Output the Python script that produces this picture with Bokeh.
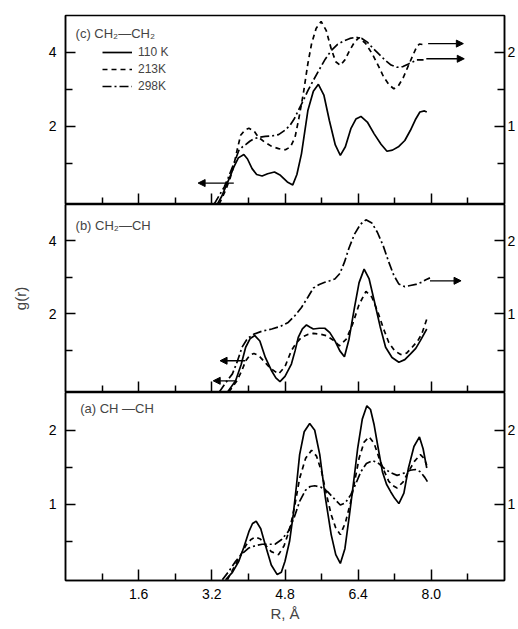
from bokeh.plotting import figure
from bokeh.models import (Range1d, LinearAxis, FixedTicker, Arrow, NormalHead, Label,
                          Legend, LegendItem, PrintfTickFormatter, CustomJSTickFormatter)
from bokeh.layouts import column
from bokeh.embed import file_html
from bokeh.resources import INLINE

FONT = "Liberation Sans"

# ---------------- data (R in Angstrom, g(r)) ----------------
# panel (c) CH2-CH2
R_c_110 = [3.32, 3.42, 3.50, 3.60, 3.68, 3.78, 3.90, 3.98, 4.08, 4.18, 4.30, 4.42, 4.57, 4.70, 4.85, 4.97, 5.06, 5.16, 5.30, 5.42, 5.53, 5.65, 5.77, 5.90, 6.01, 6.12, 6.24, 6.35, 6.46, 6.60, 6.75, 6.90, 7.03, 7.15, 7.29, 7.42, 7.54, 7.65, 7.75, 7.85, 7.90]
g_c_110 = [-0.10, 0.12, 0.36, 0.65, 0.90, 1.15, 1.24, 1.12, 0.86, 0.70, 0.66, 0.72, 0.77, 0.68, 0.50, 0.42, 0.70, 1.26, 2.43, 2.95, 3.14, 2.85, 2.16, 1.50, 1.22, 1.45, 1.94, 2.20, 2.27, 2.12, 1.80, 1.52, 1.33, 1.36, 1.46, 1.62, 1.89, 2.18, 2.39, 2.42, 2.39]
R_c_213 = [3.36, 3.50, 3.60, 3.68, 3.76, 3.83, 3.92, 4.01, 4.12, 4.22, 4.35, 4.51, 4.66, 4.81, 4.92, 5.02, 5.10, 5.20, 5.30, 5.38, 5.48, 5.59, 5.70, 5.81, 5.91, 6.01, 6.11, 6.21, 6.32, 6.42, 6.56, 6.71, 6.85, 6.96, 7.08, 7.18, 7.28, 7.39, 7.50, 7.61, 7.68, 7.74, 7.83]
g_c_213 = [-0.10, 0.27, 0.60, 0.95, 1.40, 1.76, 1.90, 1.95, 1.88, 1.71, 1.58, 1.46, 1.40, 1.37, 1.45, 1.71, 2.20, 2.88, 3.70, 4.23, 4.65, 4.84, 4.60, 4.10, 3.75, 3.65, 3.80, 4.05, 4.28, 4.40, 4.25, 3.96, 3.62, 3.33, 3.12, 3.02, 3.10, 3.33, 3.65, 3.96, 4.15, 4.23, 4.21]
R_c_298 = [3.25, 3.47, 3.56, 3.65, 3.72, 3.79, 3.87, 3.94, 4.03, 4.12, 4.25, 4.37, 4.50, 4.66, 4.80, 4.91, 5.00, 5.09, 5.20, 5.30, 5.43, 5.56, 5.68, 5.81, 5.95, 6.10, 6.22, 6.35, 6.48, 6.60, 6.72, 6.85, 7.00, 7.12, 7.25, 7.38, 7.50, 7.60, 7.68, 7.83]
g_c_298 = [-0.10, 0.36, 0.62, 0.90, 1.12, 1.35, 1.45, 1.51, 1.60, 1.67, 1.71, 1.73, 1.74, 1.78, 1.90, 2.03, 2.20, 2.43, 2.70, 2.97, 3.27, 3.56, 3.82, 4.05, 4.22, 4.32, 4.38, 4.41, 4.38, 4.28, 4.12, 3.96, 3.78, 3.66, 3.60, 3.62, 3.69, 3.75, 3.80, 3.80]

# panel (b) CH2-CH
R_b_110 = [3.54, 3.72, 3.84, 3.94, 4.04, 4.14, 4.25, 4.37, 4.50, 4.60, 4.69, 4.80, 4.94, 5.02, 5.09, 5.18, 5.27, 5.35, 5.42, 5.55, 5.67, 5.78, 5.89, 6.00, 6.10, 6.20, 6.32, 6.42, 6.53, 6.64, 6.75, 6.88, 7.00, 7.14, 7.29, 7.42, 7.54, 7.66, 7.76, 7.90]
g_b_110 = [-0.15, 0.16, 0.60, 1.08, 1.32, 1.40, 1.25, 0.80, 0.45, 0.24, 0.14, 0.28, 0.62, 0.98, 1.35, 1.58, 1.69, 1.63, 1.58, 1.60, 1.60, 1.48, 1.26, 0.98, 0.82, 1.30, 2.17, 2.85, 3.22, 2.95, 2.36, 1.65, 1.08, 0.80, 0.67, 0.74, 0.89, 1.05, 1.26, 1.58]
R_b_213 = [3.57, 3.75, 3.86, 3.94, 4.03, 4.12, 4.22, 4.33, 4.48, 4.66, 4.80, 4.94, 5.05, 5.16, 5.30, 5.42, 5.56, 5.70, 5.85, 5.99, 6.14, 6.28, 6.42, 6.57, 6.70, 6.82, 6.95, 7.07, 7.20, 7.33, 7.46, 7.58, 7.70, 7.79, 7.90]
g_b_213 = [-0.15, 0.16, 0.45, 0.71, 0.86, 0.91, 0.86, 0.71, 0.50, 0.35, 0.55, 0.99, 1.20, 1.35, 1.43, 1.46, 1.44, 1.40, 1.28, 1.12, 1.30, 1.72, 2.25, 2.61, 2.45, 2.08, 1.60, 1.21, 0.98, 0.88, 0.92, 1.08, 1.25, 1.44, 1.85]
R_b_298 = [3.36, 3.50, 3.65, 3.76, 3.86, 3.98, 4.12, 4.30, 4.51, 4.70, 4.87, 5.02, 5.16, 5.30, 5.42, 5.55, 5.67, 5.78, 5.89, 6.00, 6.10, 6.20, 6.32, 6.45, 6.57, 6.70, 6.82, 6.95, 7.07, 7.18, 7.29, 7.42, 7.54, 7.66, 7.79, 7.88, 7.97]
g_b_298 = [-0.15, 0.10, 0.35, 0.70, 1.08, 1.32, 1.44, 1.52, 1.58, 1.65, 1.76, 1.95, 2.17, 2.45, 2.70, 2.80, 2.86, 2.90, 2.95, 3.10, 3.41, 3.80, 4.18, 4.45, 4.57, 4.48, 4.23, 3.85, 3.41, 3.05, 2.81, 2.74, 2.77, 2.80, 2.86, 2.93, 2.98]

# panel (a) CH-CH
R_a_110 = [3.50, 3.65, 3.79, 3.90, 4.01, 4.09, 4.17, 4.27, 4.37, 4.50, 4.63, 4.72, 4.80, 4.90, 4.98, 5.05, 5.12, 5.22, 5.34, 5.45, 5.56, 5.68, 5.81, 5.91, 6.01, 6.11, 6.21, 6.30, 6.39, 6.49, 6.59, 6.67, 6.75, 6.84, 6.93, 7.02, 7.11, 7.20, 7.29, 7.40, 7.50, 7.62, 7.74, 7.82, 7.90]
g_a_110 = [-0.02, 0.08, 0.23, 0.42, 0.63, 0.74, 0.77, 0.67, 0.45, 0.18, 0.05, 0.08, 0.23, 0.50, 0.86, 1.25, 1.67, 1.98, 2.09, 2.00, 1.67, 1.10, 0.59, 0.32, 0.20, 0.40, 0.86, 1.30, 1.76, 2.15, 2.33, 2.28, 2.07, 1.75, 1.44, 1.27, 1.17, 1.08, 1.01, 1.15, 1.49, 1.78, 1.91, 1.75, 1.49]
R_a_213 = [3.54, 3.79, 3.95, 4.05, 4.15, 4.26, 4.37, 4.50, 4.66, 4.78, 4.91, 5.01, 5.12, 5.25, 5.38, 5.49, 5.60, 5.70, 5.81, 5.91, 6.01, 6.12, 6.24, 6.33, 6.42, 6.53, 6.64, 6.75, 6.86, 6.96, 7.07, 7.16, 7.25, 7.38, 7.50, 7.63, 7.76, 7.84, 7.90]
g_a_213 = [-0.02, 0.27, 0.45, 0.52, 0.56, 0.53, 0.45, 0.36, 0.32, 0.44, 0.68, 0.97, 1.35, 1.62, 1.73, 1.65, 1.44, 1.15, 0.86, 0.68, 0.59, 0.75, 1.04, 1.33, 1.62, 1.84, 1.91, 1.82, 1.62, 1.46, 1.31, 1.25, 1.22, 1.30, 1.44, 1.58, 1.67, 1.62, 1.53]
R_a_298 = [3.43, 3.58, 3.72, 3.86, 4.01, 4.15, 4.30, 4.44, 4.58, 4.72, 4.87, 5.00, 5.12, 5.25, 5.35, 5.45, 5.59, 5.73, 5.87, 6.01, 6.12, 6.24, 6.35, 6.46, 6.58, 6.71, 6.83, 6.96, 7.10, 7.25, 7.40, 7.54, 7.65, 7.76, 7.86, 7.94]
g_a_298 = [-0.02, 0.10, 0.23, 0.33, 0.41, 0.44, 0.46, 0.46, 0.46, 0.52, 0.63, 0.82, 1.04, 1.19, 1.24, 1.25, 1.23, 1.17, 1.08, 0.99, 1.02, 1.13, 1.28, 1.44, 1.55, 1.59, 1.56, 1.49, 1.43, 1.39, 1.42, 1.46, 1.47, 1.44, 1.36, 1.28]

# axis tick values
x_major = [1.6, 3.2, 4.8, 6.4, 8.0]
x_minor = [0.8, 2.4, 4.0, 5.6, 7.2, 8.8]
legend_labels = ["110 K", "213K", "298K"]

# arrows (x_start, x_end, y) in panel's left-axis units; head at x_end
arrows_c = [(3.68, 2.90, 0.47), (7.93, 8.70, 4.24), (7.89, 8.72, 3.83)]
arrows_b = [(3.93, 3.38, 0.71), (3.71, 3.23, 0.16), (7.97, 8.65, 2.90)]

DASH = "5 4"
DASHDOT = "9 3 2 3"
LW = 1.7

xr = Range1d(0, 9.6)


def make_panel(height, ylo, yhi, right_scale, left_major, left_minor,
               top_border, bottom_border, show_xlabels):
    p = figure(width=518, height=height, x_range=xr, y_range=Range1d(ylo, yhi),
               output_backend="svg", toolbar_location=None,
               min_border_left=65, min_border_right=11,
               min_border_top=top_border, min_border_bottom=bottom_border)
    p.grid.visible = False
    p.outline_line_color = "black"
    p.outline_line_width = 1.5
    p.background_fill_color = "white"
    p.border_fill_color = "white"
    p.extra_y_ranges = {"r": Range1d(ylo / right_scale, yhi / right_scale)}

    xa = p.xaxis[0]
    xa.ticker = FixedTicker(ticks=x_major, minor_ticks=x_minor)
    xa.major_tick_in = 11
    xa.major_tick_out = 0
    xa.minor_tick_in = 7
    xa.minor_tick_out = 0
    xa.axis_line_width = 1.5
    xa.major_tick_line_width = 1.5
    xa.minor_tick_line_width = 1.5
    if show_xlabels:
        xa.formatter = PrintfTickFormatter(format="%.1f")
        xa.major_label_text_font = FONT
        xa.major_label_text_font_size = "14px"
        xa.major_label_text_color = "black"
        xa.major_label_standoff = 8
        xa.axis_label = "R, Å"
        xa.axis_label_text_font = FONT
        xa.axis_label_text_font_size = "15px"
        xa.axis_label_text_font_style = "normal"
        xa.axis_label_standoff = 3
    else:
        xa.formatter = CustomJSTickFormatter(code="return ''")
        xa.major_label_text_font_size = "1px"
        xa.major_label_standoff = 0

    ya = p.yaxis[0]
    ya.ticker = FixedTicker(ticks=left_major, minor_ticks=left_minor)
    ya.major_tick_in = 10
    ya.major_tick_out = 0
    ya.minor_tick_in = 7
    ya.minor_tick_out = 0
    ya.axis_line_width = 1.5
    ya.major_tick_line_width = 1.5
    ya.minor_tick_line_width = 1.5
    ya.major_label_text_font = FONT
    ya.major_label_text_font_size = "14px"
    ya.major_label_text_color = "black"
    ya.major_label_standoff = 9

    ra = LinearAxis(y_range_name="r",
                    ticker=FixedTicker(ticks=[1, 2], minor_ticks=[0.5, 1.5]))
    ra.major_tick_in = 10
    ra.major_tick_out = 0
    ra.minor_tick_in = 7
    ra.minor_tick_out = 0
    ra.axis_line_width = 1.5
    ra.major_tick_line_width = 1.5
    ra.minor_tick_line_width = 1.5
    ra.major_label_text_font = FONT
    ra.major_label_text_font_size = "14px"
    ra.major_label_text_color = "black"
    ra.major_label_standoff = 3
    p.add_layout(ra, "right")
    return p


def add_arrows(p, arrows):
    for xs, xe, y in arrows:
        p.add_layout(Arrow(end=NormalHead(size=7, fill_color="black", line_color="black"),
                           x_start=xs, y_start=y, x_end=xe, y_end=y,
                           line_width=1.3, line_color="black"))


# panel (c)
pc = make_panel(204, -0.11, 5.0, 2.0, [2, 4], [1, 3], 15, 0, False)
r1 = pc.line(R_c_110, g_c_110, line_color="black", line_width=LW)
r2 = pc.line(R_c_213, [v / 2 for v in g_c_213], y_range_name="r",
             line_color="black", line_width=LW, line_dash=DASH)
r3 = pc.line(R_c_298, [v / 2 for v in g_c_298], y_range_name="r",
             line_color="black", line_width=LW, line_dash=DASHDOT)
add_arrows(pc, arrows_c)
pc.add_layout(Label(x=0.22, y=4.51, text="(c)  CH₂—CH₂", text_font=FONT,
                    text_font_size="13px", text_baseline="middle"))
leg = Legend(items=[LegendItem(label=legend_labels[0], renderers=[r1]),
                    LegendItem(label=legend_labels[1], renderers=[r2]),
                    LegendItem(label=legend_labels[2], renderers=[r3])],
             location=(37, 111), border_line_color=None, background_fill_alpha=0,
             glyph_width=30, glyph_height=14, label_height=14, spacing=3,
             padding=0, margin=0, label_standoff=6,
             label_text_font=FONT, label_text_font_size="12px")
pc.add_layout(leg)

# panel (b)
pb = make_panel(188, -0.16, 4.99, 2.0, [2, 4], [1, 3], 0, 0, False)
pb.line(R_b_110, g_b_110, line_color="black", line_width=LW)
pb.line(R_b_213, g_b_213, line_color="black", line_width=LW, line_dash=DASH)
pb.line(R_b_298, [v / 2 for v in g_b_298], y_range_name="r",
        line_color="black", line_width=LW, line_dash=DASHDOT)
add_arrows(pb, arrows_b)
pb.add_layout(Label(x=0.22, y=4.41, text="(b)  CH₂—CH", text_font=FONT,
                    text_font_size="13px", text_baseline="middle"))
pb.yaxis[0].axis_label = "g(r)"
pb.yaxis[0].axis_label_text_font = FONT
pb.yaxis[0].axis_label_text_font_size = "15px"
pb.yaxis[0].axis_label_text_font_style = "normal"
pb.yaxis[0].axis_label_standoff = 17

# panel (a)
pa = make_panel(237, -0.03, 2.51, 1.0, [1, 2], [0.5, 1.5], 0, 49, True)
pa.line(R_a_110, g_a_110, line_color="black", line_width=LW)
pa.line(R_a_213, g_a_213, line_color="black", line_width=LW, line_dash=DASH)
pa.line(R_a_298, g_a_298, line_color="black", line_width=LW, line_dash=DASHDOT)
pa.add_layout(Label(x=0.32, y=2.30, text="(a)  CH —CH", text_font=FONT,
                    text_font_size="13px", text_baseline="middle"))

layout = column(pc, pb, pa, spacing=0)
open("out.html", "w").write(file_html(layout, INLINE))
